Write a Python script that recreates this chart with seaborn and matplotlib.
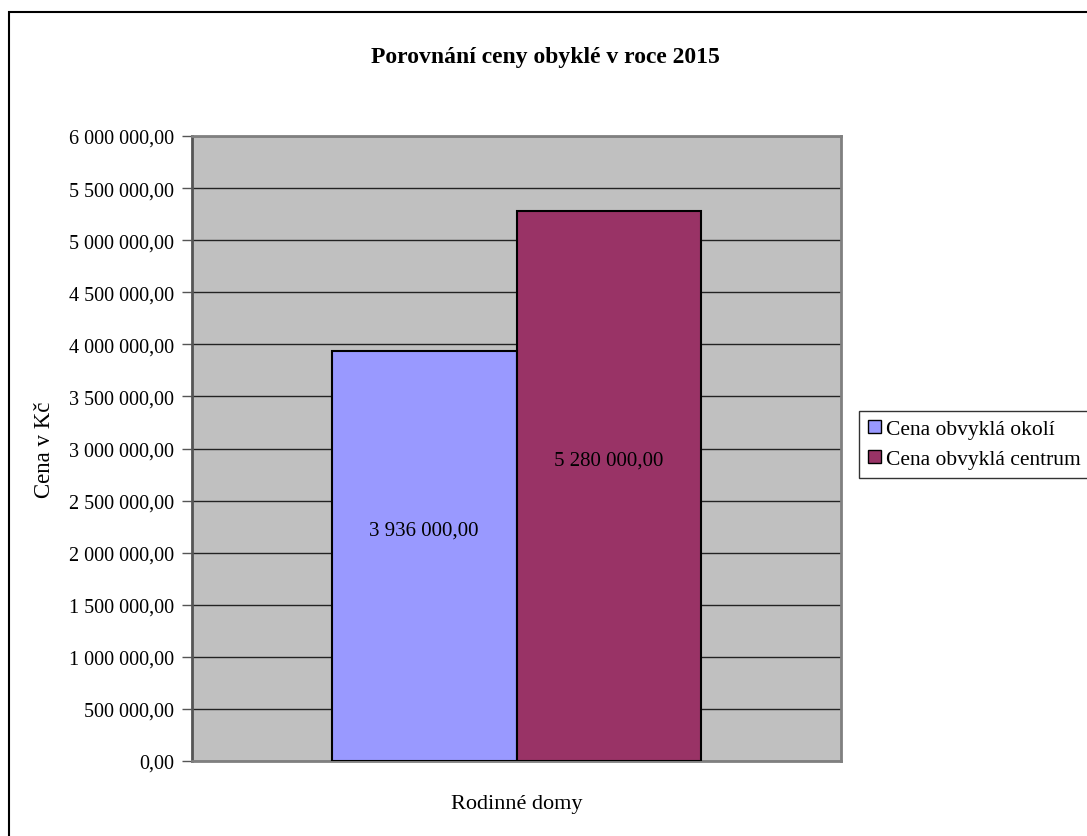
import matplotlib
matplotlib.use("Agg")
import matplotlib.pyplot as plt
import matplotlib.patches as mpatches
from matplotlib.ticker import FuncFormatter, MultipleLocator
import seaborn as sns
import pandas as pd

# Data
categories = ["Rodinné domy", "Rodinné domy"]
series = ["Cena obvyklá okolí", "Cena obvyklá centrum"]
values = [3936000.00, 5280000.00]
colors = ["#9999FF", "#993366"]

title = "Porovnání ceny obyklé v roce 2015"
ylabel = "Cena v Kč"
xlabel = "Rodinné domy"

sns.set_style("white")
plt.rcParams["font.family"] = ["Liberation Serif", "DejaVu Serif"]
plt.rcParams["text.color"] = "black"
plt.rcParams["axes.labelcolor"] = "black"
plt.rcParams["ytick.color"] = "black"

df = pd.DataFrame({"cat": categories, "series": series, "value": values})

fig = plt.figure(figsize=(10.87, 8.37), dpi=100)
ax = fig.add_axes([192 / 1087, 1 - 762 / 837, (841 - 192) / 1087, (762 - 137) / 837])
ax.set_facecolor("#C0C0C0")

sns.barplot(data=df, x="cat", y="value", hue="series", palette=colors,
            width=0.57, edgecolor="black", linewidth=1.5, saturation=1,
            ax=ax, legend=True, zorder=3)

ax.set_xlim(-0.5, 0.5)
ax.set_ylim(0, 6000000)
ax.yaxis.set_major_locator(MultipleLocator(500000))
ax.yaxis.set_major_formatter(FuncFormatter(
    lambda v, p: f"{v:,.2f}".replace(",", " ").replace(".", ",")))
ax.grid(axis="y", color="#222222", linewidth=1.0, zorder=0)
ax.set_axisbelow(True)
ax.tick_params(axis="y", left=True, length=7, width=1, color="#555555",
               labelsize=14.5, pad=6)
ax.tick_params(axis="x", bottom=False, labelbottom=False)
for s in ax.spines.values():
    s.set_color("#808080")
    s.set_linewidth(2)
    s.set_visible(True)
ax.spines["left"].set_color("#555555")

ax.set_ylabel(ylabel, fontsize=16.5, labelpad=10)
ax.set_xlabel(xlabel, fontsize=16, labelpad=24)

# value labels
for cont in ax.containers:
    for bar, v in zip(cont, cont.datavalues):
        if v != v:
            continue
        ax.annotate(f"{v:,.2f}".replace(",", " ").replace(".", ","),
                    (bar.get_x() + bar.get_width() / 2, v / 2),
                    xytext=(0, 26), textcoords="offset pixels",
                    ha="center", va="center", fontsize=15, zorder=5)

# legend
ax.get_legend().remove()
handles = [mpatches.Patch(facecolor=c, edgecolor="black", linewidth=1) for c in colors]
leg = fig.legend(handles, series, loc="upper left",
                 bbox_to_anchor=(859 / 1087, 1 - 412 / 837),
                 fontsize=15.5, frameon=True, fancybox=False, edgecolor="black",
                 handlelength=0.6, handleheight=0.6, handletextpad=0.25,
                 borderpad=0.4, labelspacing=0.5, borderaxespad=0)
leg.get_frame().set_linewidth(1)

fig.suptitle(title, x=545 / 1087, y=1 - 57 / 837, va="center",
             fontsize=17, fontweight="bold")

# figure border
fig.patches.append(mpatches.Rectangle((9 / 1087, -0.05), 1.1, 1 - 13 / 837 + 0.05,
                                      transform=fig.transFigure, fill=False,
                                      edgecolor="black", linewidth=1.5, clip_on=False))

fig.savefig("out.png", dpi=100)
